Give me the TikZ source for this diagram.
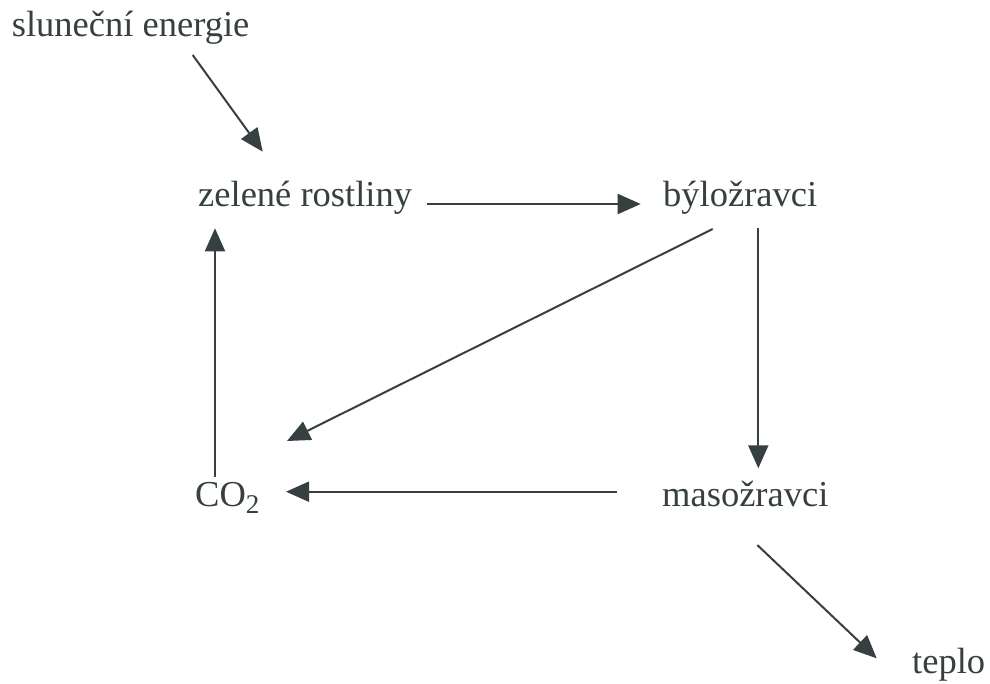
\documentclass[tikz,border=0pt]{standalone}
\usepackage{fontspec}
\setmainfont{Liberation Serif}
\usetikzlibrary{arrows.meta}
\definecolor{ink}{HTML}{374040}
\newcommand{\subtwo}{\raisebox{-7pt}{\fontsize{27}{30}\selectfont 2}}
\begin{document}
\begin{tikzpicture}[x=1pt,y=-1pt,
  label text/.style={inner sep=0pt, anchor=base west, text=ink,
    font=\fontsize{36.5}{40}\selectfont},
  flow/.style={draw=ink, line width=2pt,
    -{Triangle[length=23pt,width=20pt]}}]
  \useasboundingbox (0,0) rectangle (990,683);
  \fill[white] (0,0) rectangle (990,683);

  % labels
  \node[label text] (sun)   at (11.7,36)  {sluneční energie};
  \node[label text] (zel)   at (198,206)  {zelené rostliny};
  \node[label text] (by)    at (663,206)  {býložravci};
  \node[label text] (co)    at (195,506)  {CO\subtwo};
  \node[label text] (mas)   at (662,506)  {masožravci};
  \node[label text] (teplo) at (912,673)  {teplo};

  % energy and matter flows
  \draw[flow] ([shift={(181,19)}]sun.base west) -- ([shift={(64.7,-54.3)}]zel.base west);
  \draw[flow] ([shift={(228.7,-2)}]zel.base west) -- ([shift={(-22.3,-2)}]by.base west);
  \draw[flow] ([shift={(95.3,22.3)}]by.base west) -- ([shift={(96.3,-37.7)}]mas.base west);
  \draw[flow] ([shift={(49.7,23)}]by.base west) -- ([shift={(92,-65)}]co.base west);
  \draw[flow] ([shift={(-45.3,-14.3)}]mas.base west) -- ([shift={(91,-14.3)}]co.base west);
  \draw[flow] ([shift={(20,-29.3)}]co.base west) -- ([shift={(17,22.3)}]zel.base west);
  \draw[flow] ([shift={(95.3,39)}]mas.base west) -- ([shift={(-35.3,-14.7)}]teplo.base west);
\end{tikzpicture}
\end{document}
